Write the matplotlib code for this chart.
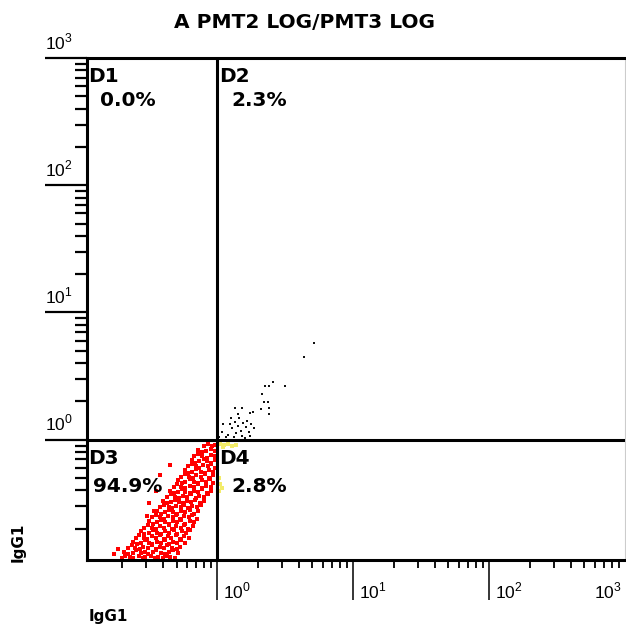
import numpy as np
import matplotlib
matplotlib.use("Agg")
import matplotlib.pyplot as plt
from matplotlib.ticker import FixedLocator, LogLocator, NullFormatter

plt.rcParams['mathtext.fontset'] = 'custom'
plt.rcParams['mathtext.rm'] = 'Liberation Sans'
plt.rcParams['font.family'] = ['DejaVu Sans']

# --- DATA (log10 of channel values) ---
title = "A PMT2 LOG/PMT3 LOG"
x_label = "IgG1"
y_label = "IgG1"
quad_names = ["D1", "D2", "D3", "D4"]
quad_pcts = ["0.0%", "2.3%", "94.9%", "2.8%"]
x_gate = 1.0
y_gate = 1.0
decades = [0, 1, 2, 3]

# red events (D3, double negative) - one line per band
red_logx = [
    -0.70, -0.68, -0.64, -0.62, -0.58, -0.55, -0.53, -0.49, -0.46, -0.44, -0.40, -0.37, -0.35, -0.31,
    -0.685, -0.655, -0.625, -0.60, -0.565, -0.535, -0.51, -0.475, -0.45, -0.415, -0.385, -0.36, -0.325, -0.29,
    -0.66, -0.63, -0.605, -0.57, -0.545, -0.51, -0.485, -0.455, -0.42, -0.395, -0.37, -0.335, -0.30, -0.275,
    -0.625, -0.595, -0.565, -0.535, -0.505, -0.48, -0.445, -0.415, -0.385, -0.355, -0.325, -0.295, -0.265, -0.235,
    -0.60, -0.575, -0.54, -0.515, -0.485, -0.45, -0.425, -0.39, -0.365, -0.34, -0.305, -0.275, -0.245, -0.21,
    -0.565, -0.54, -0.505, -0.475, -0.445, -0.415, -0.385, -0.355, -0.32, -0.295, -0.26, -0.23, -0.20,
    -0.54, -0.51, -0.485, -0.455, -0.42, -0.395, -0.36, -0.335, -0.305, -0.27, -0.245, -0.215, -0.18,
    -0.505, -0.475, -0.445, -0.415, -0.385, -0.355, -0.325, -0.295, -0.265, -0.235, -0.205, -0.17,
    -0.48, -0.455, -0.42, -0.395, -0.365, -0.33, -0.305, -0.275, -0.245, -0.21, -0.185, -0.15,
    -0.445, -0.415, -0.385, -0.355, -0.325, -0.295, -0.265, -0.235, -0.205, -0.17, -0.14,
    -0.42, -0.395, -0.36, -0.335, -0.305, -0.27, -0.245, -0.215, -0.185, -0.15, -0.12,
    -0.40, -0.37, -0.345, -0.315, -0.28, -0.255, -0.225, -0.195, -0.165, -0.13, -0.10,
    -0.37, -0.345, -0.315, -0.285, -0.255, -0.225, -0.195, -0.16, -0.135, -0.10, -0.07,
    -0.35, -0.32, -0.29, -0.26, -0.235, -0.205, -0.17, -0.145, -0.115, -0.08, -0.05,
    -0.32, -0.295, -0.265, -0.235, -0.20, -0.175, -0.145, -0.115, -0.085, -0.05,
    -0.29, -0.26, -0.235, -0.205, -0.175, -0.145, -0.11, -0.085, -0.055, -0.03,
    -0.27, -0.24, -0.21, -0.18, -0.155, -0.12, -0.095, -0.065, -0.03,
    -0.24, -0.215, -0.185, -0.155, -0.12, -0.095, -0.06, -0.035,
    -0.22, -0.19, -0.16, -0.135, -0.105, -0.07, -0.045, -0.02,
    -0.19, -0.165, -0.135, -0.10, -0.075, -0.045, -0.02,
    -0.17, -0.14, -0.11, -0.08, -0.05, -0.02,
    -0.14, -0.115, -0.085, -0.05, -0.02,
    -0.10, -0.07, -0.04, -0.02,
    -0.50, -0.47, -0.52, -0.45, -0.42, -0.35, -0.76, -0.73,
]
red_logy = [
    -0.93, -0.91, -0.92, -0.93, -0.91, -0.93, -0.92, -0.91, -0.93, -0.92, -0.93, -0.91, -0.92, -0.93,
    -0.88, -0.90, -0.89, -0.87, -0.89, -0.88, -0.90, -0.88, -0.87, -0.89, -0.90, -0.88, -0.87, -0.89,
    -0.85, -0.83, -0.85, -0.86, -0.84, -0.85, -0.83, -0.86, -0.84, -0.85, -0.83, -0.85, -0.86, -0.84,
    -0.80, -0.82, -0.81, -0.79, -0.81, -0.82, -0.80, -0.81, -0.79, -0.82, -0.80, -0.81, -0.79, -0.81,
    -0.77, -0.75, -0.77, -0.78, -0.76, -0.77, -0.75, -0.78, -0.76, -0.77, -0.75, -0.78, -0.76, -0.77,
    -0.72, -0.74, -0.73, -0.71, -0.73, -0.74, -0.72, -0.73, -0.71, -0.74, -0.72, -0.73, -0.71,
    -0.69, -0.67, -0.69, -0.70, -0.68, -0.69, -0.67, -0.70, -0.68, -0.69, -0.67, -0.70, -0.68,
    -0.64, -0.66, -0.65, -0.63, -0.65, -0.66, -0.64, -0.65, -0.63, -0.66, -0.64, -0.65,
    -0.61, -0.59, -0.61, -0.62, -0.60, -0.61, -0.59, -0.62, -0.60, -0.61, -0.59, -0.62,
    -0.56, -0.58, -0.57, -0.55, -0.57, -0.58, -0.56, -0.57, -0.55, -0.58, -0.56,
    -0.53, -0.51, -0.53, -0.54, -0.52, -0.53, -0.51, -0.54, -0.52, -0.53, -0.51,
    -0.48, -0.50, -0.49, -0.47, -0.49, -0.50, -0.48, -0.49, -0.47, -0.50, -0.48,
    -0.45, -0.43, -0.45, -0.46, -0.44, -0.45, -0.43, -0.46, -0.44, -0.45, -0.43,
    -0.40, -0.42, -0.41, -0.39, -0.41, -0.42, -0.40, -0.41, -0.39, -0.42, -0.40,
    -0.37, -0.35, -0.37, -0.38, -0.36, -0.37, -0.35, -0.38, -0.36, -0.37,
    -0.32, -0.34, -0.33, -0.31, -0.33, -0.34, -0.32, -0.33, -0.31, -0.34,
    -0.29, -0.27, -0.29, -0.30, -0.28, -0.29, -0.27, -0.30, -0.28,
    -0.24, -0.26, -0.25, -0.23, -0.25, -0.26, -0.24, -0.25,
    -0.21, -0.19, -0.21, -0.22, -0.20, -0.21, -0.19, -0.22,
    -0.16, -0.18, -0.17, -0.15, -0.17, -0.18, -0.16,
    -0.13, -0.11, -0.13, -0.14, -0.12, -0.13,
    -0.08, -0.10, -0.09, -0.07, -0.09,
    -0.05, -0.03, -0.05, -0.04,
    -0.50, -0.56, -0.60, -0.40, -0.28, -0.20, -0.90, -0.86,
]

# black events (D2, double positive)
black_logx = [0.71, 0.64, 0.41, 0.35, 0.38, 0.50, 0.33, 0.34, 0.37, 0.32, 0.38, 0.38,
              0.26, 0.24, 0.18, 0.13, 0.15,
              0.04, 0.09, 0.11, 0.13, 0.15, 0.17, 0.19, 0.21, 0.23, 0.25, 0.14, 0.08,
              0.12, 0.18, 0.22, 0.27, 0.03, 0.06, 0.10, 0.16, 0.20, 0.24, 0.01]
black_logy = [0.76, 0.65, 0.45, 0.42, 0.42, 0.42, 0.36, 0.30, 0.30, 0.24, 0.25, 0.20,
              0.22, 0.21, 0.25, 0.25, 0.20,
              0.12, 0.12, 0.09, 0.14, 0.11, 0.07, 0.13, 0.10, 0.06, 0.12, 0.05, 0.04,
              0.02, 0.03, 0.15, 0.09, 0.06, 0.02, 0.17, 0.17, 0.01, 0.03, 0.02]

# yellow events (D4)
yellow_logx = [0.02, 0.05, 0.08, 0.11, 0.14, 0.04, 0.01, 0.02, 0.03, 0.01]
yellow_logy = [-0.03, -0.04, -0.03, -0.05, -0.04, -0.06, -0.30, -0.35, -0.38, -0.40]

# --- FIGURE ---
fig = plt.figure(figsize=(6.26, 6.27), dpi=100)
ax = fig.add_axes([87 / 626, 1 - 560 / 627, 538 / 626, 502 / 627])
ax.set_xscale('log')
ax.set_yscale('log')
ax.set_xlim(10 ** -0.96, 10 ** 3)
ax.set_ylim(10 ** -0.945, 10 ** 3)

ax.scatter(10 ** np.array(red_logx), 10 ** np.array(red_logy), s=9, marker='s',
           c='#ff0000', linewidths=0, zorder=2)
ax.scatter(10 ** np.array(yellow_logx), 10 ** np.array(yellow_logy), s=6, marker='s',
           c='#f3ec6a', linewidths=0, zorder=2)
ax.scatter(10 ** np.array(black_logx), 10 ** np.array(black_logy), s=3.5, marker='s',
           c='#111111', linewidths=0, zorder=3)

# quadrant gates
ax.axvline(x_gate, color='black', lw=2.2, zorder=4)
ax.axhline(y_gate, color='black', lw=2.2, zorder=4)

for side in ['top', 'left', 'bottom']:
    ax.spines[side].set_linewidth(2.2)
ax.spines['right'].set_linewidth(0.8)
ax.spines['right'].set_color('#cccccc')

# ticks
ax.xaxis.set_major_locator(FixedLocator([1, 10, 100]))
ax.yaxis.set_major_locator(FixedLocator([1, 10, 100, 1000]))
ax.xaxis.set_minor_locator(LogLocator(base=10, subs=np.arange(2, 10)))
ax.yaxis.set_minor_locator(LogLocator(base=10, subs=np.arange(2, 10)))
ax.xaxis.set_major_formatter(NullFormatter())
ax.xaxis.set_minor_formatter(NullFormatter())
ax.yaxis.set_major_formatter(NullFormatter())
ax.yaxis.set_minor_formatter(NullFormatter())
ax.tick_params(axis='x', which='major', direction='out', length=29, width=1.1)
ax.tick_params(axis='x', which='minor', direction='out', length=6, width=1.3)
ax.tick_params(axis='y', which='major', direction='out', length=30, width=1.6)
ax.tick_params(axis='y', which='minor', direction='out', length=9, width=1.6)

for k in decades:
    ax.annotate(r'$10^{%d}$' % k, xy=(10 ** k, 0), xycoords=('data', 'axes fraction'),
                xytext=(4 if k < 3 else -2, -16), textcoords='offset points',
                ha='left' if k < 3 else 'right', va='top', fontsize=12.5)
    ax.annotate(r'$10^{%d}$' % k, xy=(0, 10 ** k), xycoords=('axes fraction', 'data'),
                xytext=(-30, 3.5), textcoords='offset points',
                ha='left', va='bottom', fontsize=12.5)

# quadrant labels
qfont = dict(fontsize=14.5, fontweight='bold', va='top', ha='left', zorder=5)
ax.annotate(quad_names[0], xy=(0, 1), xycoords='axes fraction',
            xytext=(1, -6.5), textcoords='offset points', **qfont)
ax.annotate(quad_pcts[0], xy=(0, 1), xycoords='axes fraction',
            xytext=(9.5, -24), textcoords='offset points', **qfont)
ax.annotate(quad_names[1], xy=(x_gate, 1), xycoords=('data', 'axes fraction'),
            xytext=(1, -6.5), textcoords='offset points', **qfont)
ax.annotate(quad_pcts[1], xy=(x_gate, 1), xycoords=('data', 'axes fraction'),
            xytext=(10, -24), textcoords='offset points', **qfont)
ax.annotate(quad_names[2], xy=(0, y_gate), xycoords=('axes fraction', 'data'),
            xytext=(0.5, -7), textcoords='offset points', **qfont)
ax.annotate(quad_pcts[2], xy=(0, y_gate), xycoords=('axes fraction', 'data'),
            xytext=(4, -27), textcoords='offset points', **qfont)
ax.annotate(quad_names[3], xy=(x_gate, y_gate), xycoords='data',
            xytext=(1, -7), textcoords='offset points', **qfont)
ax.annotate(quad_pcts[3], xy=(x_gate, y_gate), xycoords='data',
            xytext=(10, -27), textcoords='offset points', **qfont)

fig.text(305 / 626, 1 - 22 / 627, title, ha='center', va='center',
         fontsize=14.5, fontweight='bold')
fig.text(108 / 626, 1 - 617 / 627, x_label, ha='center', va='center',
         fontsize=11, fontweight='bold')
fig.text(18 / 626, 1 - 542 / 627, y_label, ha='center', va='center',
         fontsize=11, fontweight='bold', rotation=90)

fig.savefig('out.png', dpi=100)
